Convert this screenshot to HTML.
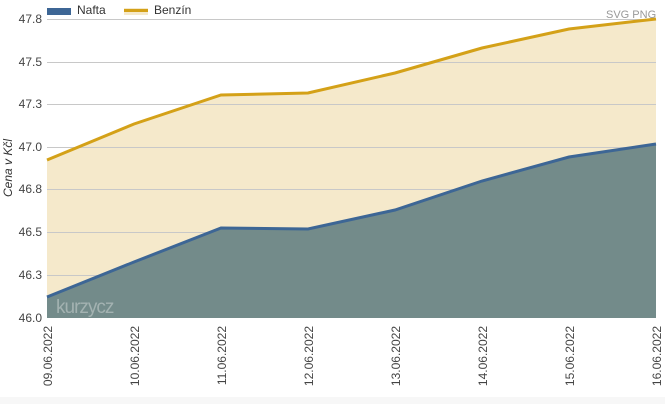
<!DOCTYPE html>
<html><head><meta charset="utf-8"><style>
body{margin:0;background:#fff;width:665px;height:404px;overflow:hidden;font-family:"Liberation Sans",Arial,sans-serif}
</style></head><body>
<svg width="665" height="404" xmlns="http://www.w3.org/2000/svg" font-family="Liberation Sans, Arial, sans-serif">
<rect x="0" y="397" width="665" height="7" fill="#f7f7f7"/>
<polygon points="47,160 134,124 221,95 308,93 395,73 482,48 569,29 656,19 656,318 47,318" fill="#f5e9cb"/>
<g stroke="#c8c8c8" stroke-width="1">
<line x1="47" y1="19.5" x2="656" y2="19.5"/><line x1="47" y1="62.5" x2="656" y2="62.5"/>
<line x1="47" y1="104.5" x2="656" y2="104.5"/><line x1="47" y1="147.5" x2="656" y2="147.5"/>
<line x1="47" y1="189.5" x2="656" y2="189.5"/><line x1="47" y1="232.5" x2="656" y2="232.5"/>
<line x1="47" y1="275.5" x2="656" y2="275.5"/>
</g>
<polygon points="47,297 134,262 221,228 308,229 395,210 482,181 569,157 656,144 656,318 47,318" fill="#738b8a"/>
<polyline points="47,160 134,124 221,95 308,93 395,73 482,48 569,29 656,19" fill="none" stroke="#d4a118" stroke-width="3"/>
<polyline points="47,297 134,262 221,228 308,229 395,210 482,181 569,157 656,144" fill="none" stroke="#3d6695" stroke-width="3"/>
<text x="56" y="313" font-size="19" fill="#a3b2b1" letter-spacing="-1">kurzycz</text>
<g font-size="12" fill="#444" text-anchor="end">
<text x="42" y="23">47.8</text><text x="42" y="66">47.5</text><text x="42" y="108">47.3</text>
<text x="42" y="151">47.0</text><text x="42" y="193">46.8</text><text x="42" y="236">46.5</text>
<text x="42" y="279">46.3</text><text x="42" y="322">46.0</text>
</g>
<text transform="translate(12,168) rotate(-90)" font-size="12" font-style="italic" fill="#333" text-anchor="middle">Cena v Kčl</text>
<g font-size="12" fill="#444" text-anchor="end">
<text transform="translate(52,326) rotate(-90)">09.06.2022</text>
<text transform="translate(139,326) rotate(-90)">10.06.2022</text>
<text transform="translate(226,326) rotate(-90)">11.06.2022</text>
<text transform="translate(313,326) rotate(-90)">12.06.2022</text>
<text transform="translate(400,326) rotate(-90)">13.06.2022</text>
<text transform="translate(487,326) rotate(-90)">14.06.2022</text>
<text transform="translate(574,326) rotate(-90)">15.06.2022</text>
<text transform="translate(661,326) rotate(-90)">16.06.2022</text>
</g>
<rect x="47" y="8" width="24" height="7" fill="#3d6695"/>
<text x="77" y="14" font-size="12" fill="#333">Nafta</text>
<rect x="124" y="8" width="24" height="7" fill="#f5e9cb"/>
<rect x="124" y="9" width="24" height="3" fill="#d4a118"/>
<text x="154" y="14" font-size="12" fill="#333">Benzín</text>
<text x="606" y="18" font-size="11" fill="#999">SVG PNG</text>
</svg>
</body></html>
